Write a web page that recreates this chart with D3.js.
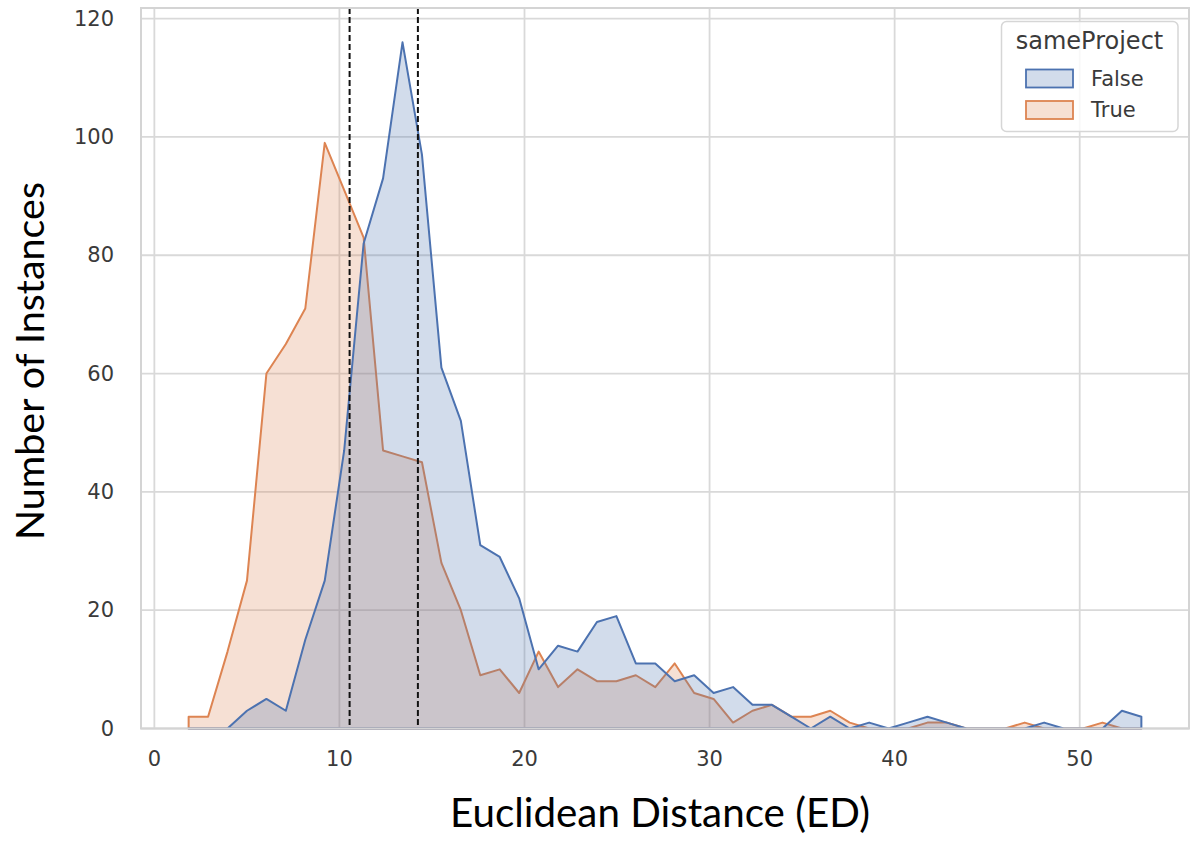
<!DOCTYPE html>
<html>
<head>
<meta charset="utf-8">
<script src="https://cdn.jsdelivr.net/npm/d3@7"></script>
<style>
  body { margin: 0; background: #fff; }
</style>
</head>
<body>
<script>
  // histogram bins (shared by both hues), drawn as polygons through bin centres
  let binStart = 1.327;
  let binWidth = 1.0506;

  let falseCounts = [0,0,0,3,5,3,15,25,47,82,93,116,97,61,52,31,29,22,10,14,
                     13,18,19,11,11,8,9,6,7,4,4,2,0,2,0,1,0,1,2,1,
                     0,0,0,0,1,0,0,0,3,2];
  let trueCounts  = [2,2,13,25,60,65,71,99,91,83,47,46,45,28,20,9,10,6,13,7,
                     10,8,8,9,7,11,6,5,1,3,4,2,2,3,1,0,0,0,1,1,
                     0,0,0,1,0,0,0,1,0,0];

  let medianLines = [10.55, 14.24];
  let xTicks = [0, 10, 20, 30, 40, 50];
  let yTicks = [0, 20, 40, 60, 80, 100, 120];
  let hueLevels = ["False", "True"];
  let hueColors = {"False": "#4c72b0", "True": "#dd8452"};

  let width = 1203;
  let height = 842;
  let pLeft = 141, pRight = 1189, pTop = 8, pBottom = 728.5;

  let centers = falseCounts.map(function(d, i) { return binStart + binWidth * (i + 0.5); });
  let c0 = centers[0], cN = centers[centers.length - 1];
  let pad = (cN - c0) * 0.05;
  let ymax = d3.max(falseCounts.concat(trueCounts)) * 1.05;

  let x = d3.scaleLinear().domain([c0 - pad, cN + pad]).range([pLeft, pRight]);
  let y = d3.scaleLinear().domain([0, ymax]).range([pBottom, pTop]);

  let svg = d3.select("body").append("svg")
    .attr("width", width).attr("height", height);
  svg.append("rect").attr("width", width).attr("height", height).style("fill", "white");

  // grid
  let grid = svg.append("g");
  grid.selectAll(".vg").data(xTicks).enter().append("line")
    .attr("x1", d => x(d)).attr("x2", d => x(d))
    .attr("y1", pTop).attr("y2", pBottom)
    .style("stroke", "#d9d9d9").style("stroke-width", 1.8);
  grid.selectAll(".hg").data(yTicks).enter().append("line")
    .attr("x1", pLeft).attr("x2", pRight)
    .attr("y1", d => y(d)).attr("y2", d => y(d))
    .style("stroke", "#d9d9d9").style("stroke-width", 1.8);

  // polygons: True first, False on top
  let area = d3.area()
    .x(d => x(d[0]))
    .y0(y(0))
    .y1(d => y(d[1]));
  let series = {
    "False": centers.map((c, i) => [c, falseCounts[i]]),
    "True": centers.map((c, i) => [c, trueCounts[i]])
  };
  ["True", "False"].forEach(function(k) {
    svg.append("path")
      .attr("d", area(series[k]))
      .style("fill", hueColors[k]).style("fill-opacity", 0.25)
      .style("stroke", hueColors[k]).style("stroke-width", 2)
      .style("stroke-linejoin", "round");
  });

  // dashed reference lines
  svg.append("g").selectAll("line").data(medianLines).enter().append("line")
    .attr("x1", d => x(d)).attr("x2", d => x(d))
    .attr("y1", pTop).attr("y2", pBottom)
    .style("stroke", "#111").style("stroke-width", 2)
    .style("stroke-dasharray", "6,3");

  // frame
  svg.append("rect")
    .attr("x", pLeft).attr("y", pTop)
    .attr("width", pRight - pLeft).attr("height", pBottom - pTop)
    .style("fill", "none").style("stroke", "#d4d4d4").style("stroke-width", 2);

  // tick labels
  svg.append("g").selectAll("text").data(xTicks).enter().append("text")
    .attr("x", d => x(d)).attr("y", 766)
    .attr("text-anchor", "middle")
    .style("font-family", "DejaVu Sans").style("font-size", "21px").style("fill", "#3a3a3a")
    .text(d => d);
  svg.append("g").selectAll("text").data(yTicks).enter().append("text")
    .attr("x", 114).attr("y", d => y(d))
    .attr("text-anchor", "end").attr("dominant-baseline", "central")
    .style("font-family", "DejaVu Sans").style("font-size", "21px").style("fill", "#3a3a3a")
    .text(d => d);

  // axis titles, sized to the width they take in the picture
  function fitText(sel, target) {
    let w = sel.node().getComputedTextLength();
    let fs = parseFloat(sel.style("font-size"));
    sel.style("font-size", (fs * target / w) + "px");
  }
  let xTitle = svg.append("text")
    .attr("x", 660).attr("y", 827)
    .attr("text-anchor", "middle")
    .style("font-family", "Lato").style("font-size", "40px").style("fill", "#000")
    .text("Euclidean Distance (ED)");
  fitText(xTitle, 420);
  let yTitle = svg.append("text")
    .attr("transform", "translate(44,361) rotate(-90)")
    .attr("text-anchor", "middle")
    .style("font-family", "Lato").style("font-size", "40px").style("fill", "#000")
    .text("Number of Instances");
  fitText(yTitle, 358);

  // legend
  let legend = svg.append("g");
  legend.append("rect")
    .attr("x", 1001.5).attr("y", 21.5).attr("width", 176.5).attr("height", 110)
    .attr("rx", 5)
    .style("fill", "white").style("fill-opacity", 0.8)
    .style("stroke", "#d6d6d6").style("stroke-width", 1.5);
  legend.append("text")
    .attr("x", 1089.5).attr("y", 49)
    .attr("text-anchor", "middle")
    .style("font-family", "DejaVu Sans").style("font-size", "24px").style("fill", "#3a3a3a")
    .text("sameProject");
  hueLevels.forEach(function(k, i) {
    let cy = 78.5 + i * 31.5;
    legend.append("rect")
      .attr("x", 1026).attr("y", cy - 9).attr("width", 47).attr("height", 18)
      .style("fill", hueColors[k]).style("fill-opacity", 0.25)
      .style("stroke", hueColors[k]).style("stroke-width", 1.8);
    legend.append("text")
      .attr("x", 1091).attr("y", cy)
      .attr("dominant-baseline", "central")
      .style("font-family", "DejaVu Sans").style("font-size", "21px").style("fill", "#3a3a3a")
      .text(k);
  });
</script>
</body>
</html>
